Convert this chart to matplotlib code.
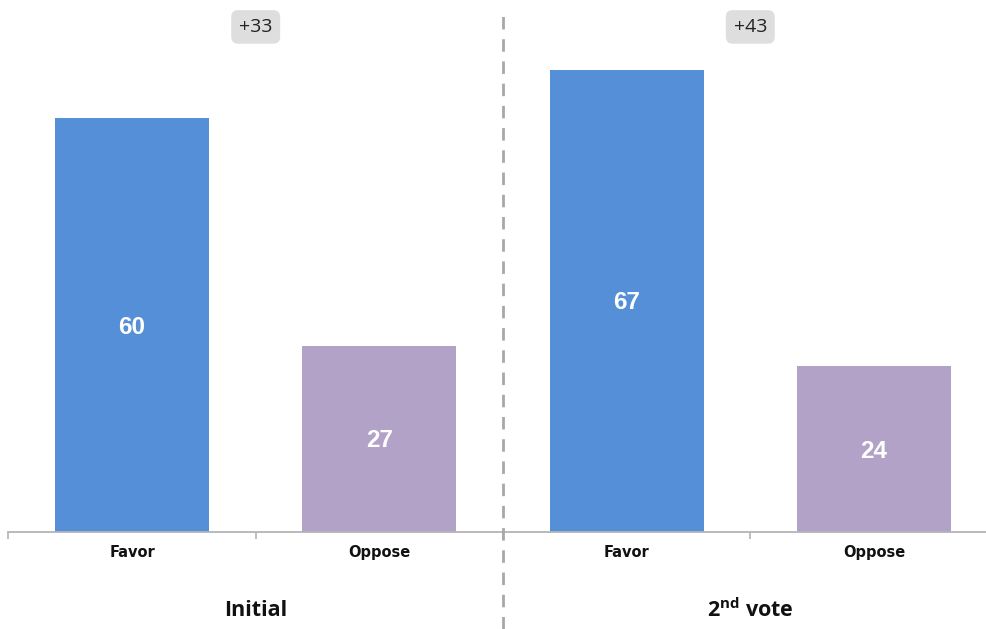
import matplotlib
matplotlib.use("Agg")
import matplotlib.pyplot as plt
from matplotlib.lines import Line2D

categories = ["Favor", "Oppose", "Favor", "Oppose"]
values = [60, 27, 67, 24]
groups = ["Initial", "2$^{\\mathregular{nd}}$ vote"]
diffs = ["+33", "+43"]
colors = ["#558fd7", "#b2a2c7", "#558fd7", "#b2a2c7"]

W, H = 987, 629
fig = plt.figure(figsize=(W / 100, H / 100), dpi=100)
left_px, right_px = 8.4, 997.6
base_px = 532
ppu = 6.9
ax = fig.add_axes([left_px / W, (H - base_px) / H, (right_px - left_px) / W, base_px / H])
ax.set_xlim(-0.5, 3.5)
ax.set_ylim(0, base_px / ppu)

x = list(range(len(values)))
ax.bar(x, values, width=0.623, color=colors, zorder=2)
for xi, v in zip(x, values):
    ax.text(xi, v / 2 - 0.3, str(v), ha="center", va="center", color="white",
            fontsize=17.5, fontweight="bold", family="Liberation Sans")

for s in ["top", "right", "left"]:
    ax.spines[s].set_visible(False)
ax.spines["bottom"].set_color("#b4b4b4")
ax.spines["bottom"].set_linewidth(1.3)
ax.set_yticks([])
ax.set_xticks([-0.5, 0.5, 1.5, 2.5, 3.5])
ax.set_xticklabels([])
ax.tick_params(axis="x", length=5, width=1.2, color="#b4b4b4", direction="out")

for xi, c in zip(x, categories):
    ax.text(xi, -2.9, c, ha="center", va="center", fontsize=10.5, fontweight="bold",
            family="DejaVu Sans", color="#111111")

for gi, g in enumerate(groups):
    ax.text(0.5 + 2 * gi, -11.4, g, ha="center", va="center", fontsize=15.5,
            fontweight="bold", family="Open Sans", color="#111111")

for gi, d in enumerate(diffs):
    ax.text(0.5 + 2 * gi, 73.2, d, ha="center", va="center", fontsize=14,
            family="Open Sans", color="#222222",
            bbox=dict(boxstyle="round,pad=0.4,rounding_size=0.35", fc="#dedede", ec="none"))

# dashed separator
xd = (left_px + (1.5 + 0.5) * (right_px - left_px) / 4) / W
fig.add_artist(Line2D([xd, xd], [0, 1 - 12 / H], transform=fig.transFigure,
                      color="#a8a8a8", linewidth=2, linestyle=(0, (4.5, 3.5))))

fig.savefig("out.png", dpi=100)
